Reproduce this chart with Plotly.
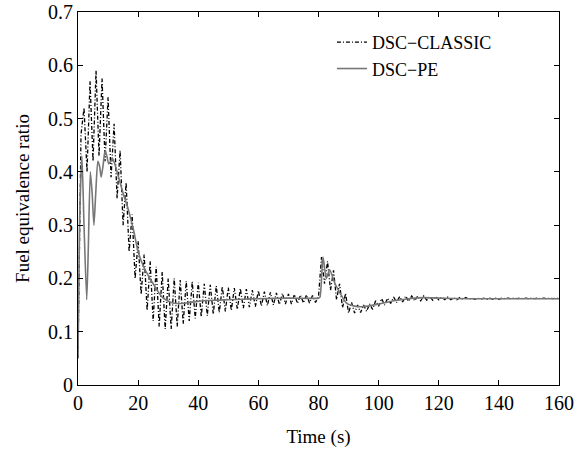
import numpy as np
import plotly.graph_objects as go

# DSC-CLASSIC: sampled every 1 s from 0 to 160 s (oscillating signal)
classic_time = list(range(0, 161))
classic_value = [
    0.05, 0.47, 0.52, 0.40, 0.57, 0.42, 0.59, 0.43, 0.575, 0.42,   # 0-9
    0.54, 0.39, 0.49, 0.35, 0.44, 0.30, 0.38, 0.25, 0.32, 0.20,    # 10-19
    0.27, 0.17, 0.245, 0.14, 0.232, 0.12, 0.222, 0.11, 0.212, 0.105,  # 20-29
    0.20, 0.105, 0.20, 0.11, 0.197, 0.115, 0.195, 0.12, 0.194, 0.125,  # 30-39
    0.192, 0.128, 0.19, 0.13, 0.188, 0.133, 0.186, 0.136, 0.185, 0.138,  # 40-49
    0.183, 0.14, 0.182, 0.142, 0.181, 0.144, 0.180, 0.146, 0.178, 0.147,  # 50-59
    0.177, 0.148, 0.175, 0.149, 0.174, 0.150, 0.173, 0.151, 0.172, 0.152,  # 60-69
    0.171, 0.152, 0.170, 0.153, 0.169, 0.154, 0.169, 0.154, 0.168, 0.155,  # 70-79
    0.166, 0.240, 0.190, 0.232, 0.178, 0.215, 0.160, 0.190, 0.145, 0.172,  # 80-89
    0.135, 0.155, 0.135, 0.150, 0.136, 0.150, 0.138, 0.152, 0.142, 0.158,  # 90-99
    0.148, 0.162, 0.150, 0.163, 0.153, 0.165, 0.155, 0.166, 0.156, 0.167,  # 100-109
    0.157, 0.167, 0.158, 0.167, 0.158, 0.167, 0.159, 0.166, 0.159, 0.166,  # 110-119
    0.160, 0.165, 0.160, 0.165, 0.160, 0.164, 0.160, 0.164, 0.161, 0.164,  # 120-129
    0.161, 0.163, 0.161, 0.163, 0.161, 0.163, 0.161, 0.163, 0.161, 0.163,  # 130-139
    0.161, 0.163, 0.162, 0.163, 0.162, 0.163, 0.162, 0.163, 0.162, 0.163,  # 140-149
    0.162, 0.163, 0.162, 0.163, 0.162, 0.163, 0.162, 0.163, 0.162, 0.163,  # 150-159
    0.162,  # 160
]

# DSC-PE
pe_time = [0, 0.5, 1.3, 2.0, 2.9, 3.4, 4.1, 4.7, 5.3, 5.9, 6.6, 7.2, 7.7, 8.3, 9.0,
           9.6, 10.2, 10.9, 11.5, 12.5, 13.5, 15, 16.7, 18.5, 20, 22, 25, 28, 31, 33,
           36, 40, 45, 50, 55, 60, 70, 80, 80.5, 81.5, 82.6, 83.7, 85.5, 87.2, 89.4,
           92, 95, 100, 105, 110, 115, 120, 130, 140, 160]
pe_value = [0.05, 0.30, 0.43, 0.30, 0.16, 0.25, 0.40, 0.36, 0.30, 0.36, 0.42, 0.41, 0.39, 0.41, 0.44,
            0.43, 0.415, 0.42, 0.425, 0.41, 0.39, 0.36, 0.33, 0.29, 0.25, 0.22, 0.19, 0.165, 0.155, 0.153,
            0.154, 0.157, 0.159, 0.160, 0.161, 0.162, 0.163, 0.163, 0.165, 0.240, 0.200, 0.216, 0.190, 0.172, 0.153,
            0.148, 0.147, 0.152, 0.158, 0.162, 0.164, 0.163, 0.162, 0.162, 0.162]

x_ticks = [0, 20, 40, 60, 80, 100, 120, 140, 160]
y_ticks = [0, 0.1, 0.2, 0.3, 0.4, 0.5, 0.6, 0.7]
y_tick_labels = ["0", "0.1", "0.2", "0.3", "0.4", "0.5", "0.6", "0.7"]

font = "Liberation Serif, Times New Roman, serif"

fig = go.Figure()
fig.add_trace(go.Scatter(
    x=classic_time, y=classic_value, mode="lines", name="DSC\u2212CLASSIC",
    line=dict(color="black", width=1.3, dash="4px,2px,1px,2px"),
))
fig.add_trace(go.Scatter(
    x=pe_time, y=pe_value, mode="lines", name="DSC\u2212PE",
    line=dict(color="#777777", width=1.6, shape="spline", smoothing=0.6),
))

axis_common = dict(
    showgrid=False, zeroline=False, showline=True, linecolor="black", linewidth=1,
    mirror="ticks", ticks="inside", ticklen=5, tickcolor="black",
    tickfont=dict(family=font, size=20, color="black"),
    automargin=False,
)
fig.update_xaxes(range=[0, 160], tickvals=x_ticks,
                 title=dict(text="Time (s)", font=dict(family=font, size=19, color="black"), standoff=16),
                 **axis_common)
fig.update_yaxes(range=[0, 0.7], tickvals=y_ticks, ticktext=y_tick_labels,
                 title=dict(text="Fuel equivalence ratio", font=dict(family=font, size=19, color="black"), standoff=13),
                 **axis_common)

fig.update_layout(
    width=584, height=450,
    margin=dict(l=78, r=25, t=12, b=65),
    plot_bgcolor="white", paper_bgcolor="white",
    font=dict(family=font, size=18, color="black"),
    legend=dict(x=0.528, y=0.968, xanchor="left", yanchor="top",
                bgcolor="rgba(0,0,0,0)", borderwidth=0,
                font=dict(family=font, size=18, color="black"),
                tracegroupgap=0, itemwidth=30),
    showlegend=True,
)

fig.write_html("out.html", config={"displayModeBar": False},
               post_script="document.body.style.margin='0';")
